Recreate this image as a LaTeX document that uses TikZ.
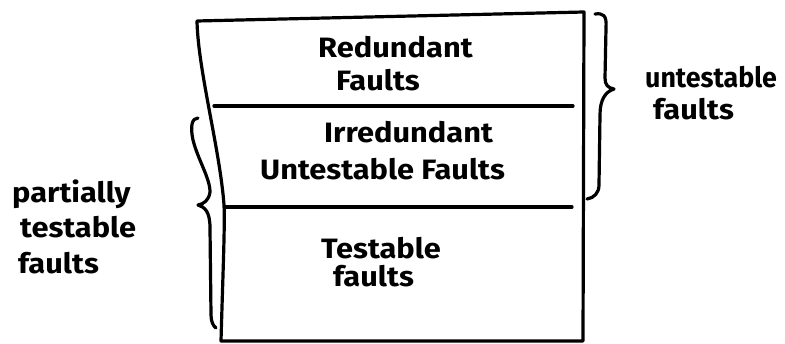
\documentclass[tikz,border=0pt]{standalone}
\usepackage{fontspec}
\setmainfont{Fira Sans}
\begin{document}
\begin{tikzpicture}[x=1pt,y=-1pt,
  ink/.style={line width=3.2pt,line cap=round,line join=round,black},
  lbl/.style={anchor=base west,inner sep=0pt,xscale=1.1,
    font=\fontsize{28}{32}\selectfont\bfseries}]
\useasboundingbox (0,0) rectangle (785,344);

% outer box, hand-drawn with a slightly leaning left side
\coordinate (tl) at (197,21);
\coordinate (tr) at (584,12);
\coordinate (br) at (583,341);
\coordinate (bl) at (221,341);
\draw[ink] (tl) -- (tr) -- (br) -- (bl)
  .. controls (223,270) and (225,225) .. (224,205)
  .. controls (220,150) and (198,70) .. (tl);

% dividing lines
\coordinate (a1) at (214,106);
\coordinate (a2) at (573,106);
\coordinate (b1) at (226,207);
\coordinate (b2) at (572,207);
\draw[ink] (a1) -- (a2);
\draw[ink] (b1) -- (b2);

% right brace: untestable faults
\coordinate (rt) at (595,14);
\coordinate (rtip) at (614,89);
\coordinate (rb) at (587,199);
\draw[ink] (rt) .. controls (603,13) and (607,15) .. (606,28)
  -- (605,78) .. controls (605,85) and (608,88) .. (rtip)
  .. controls (605,92) and (600,100) .. (600,115)
  -- (599,185) .. controls (599,193) and (594,198) .. (rb);

% left brace: partially testable faults
\coordinate (lt) at (198,118);
\coordinate (ltip) at (198,205);
\coordinate (lb) at (216,328);
\draw[ink] (lt) .. controls (192,118) and (190,126) .. (193,140)
  .. controls (198,160) and (210,178) .. (210,192)
  .. controls (209,200) and (204,204) .. (ltip)
  .. controls (205,207) and (210,212) .. (210,228)
  -- (211,315) .. controls (211,321) and (213,326) .. (lb);

% labels inside the box
\node[lbl] (red1) at (318,58) {Redundant};
\node[lbl] (red2) at (336,91) {Faults};
\node[lbl] (irr1) at (324,143) {Irredundant};
\node[lbl] (irr2) at (260,180) {Untestable Faults};
\node[lbl] (tst1) at (321,259) {Testable};
\node[lbl] (tst2) at (333,287) {faults};

% labels beside the braces
\node[lbl,xscale=0.87] (un1) at (645,88) {untestable};
\node[lbl] (un2) at (653,120) {faults};
\node[lbl] (pt1) at (12,203) {partially};
\node[lbl] (pt2) at (20,238) {testable};
\node[lbl] (pt3) at (18,274) {faults};
\end{tikzpicture}
\end{document}
